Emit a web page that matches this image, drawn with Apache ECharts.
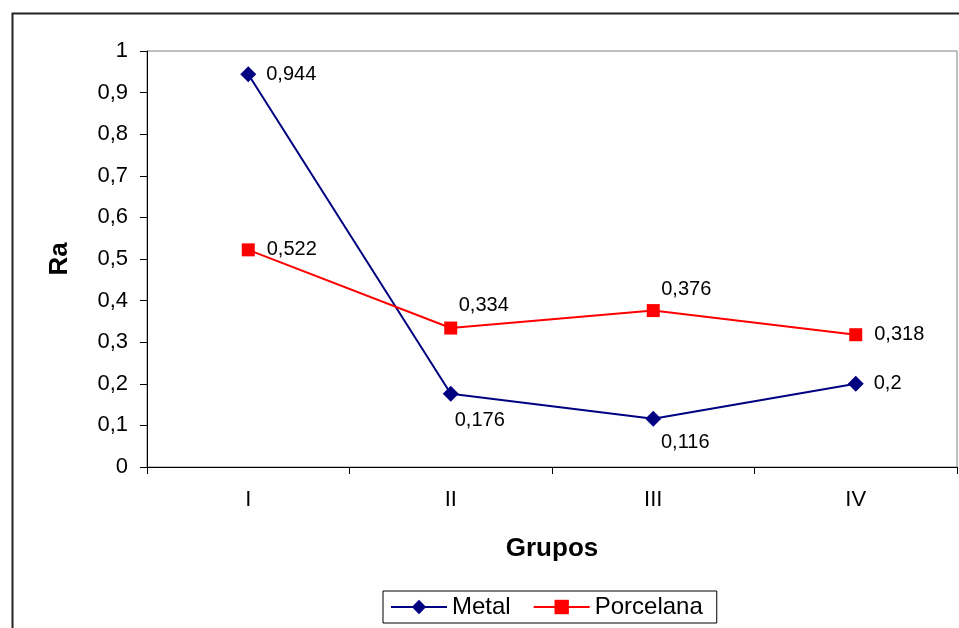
<!DOCTYPE html>
<html><head><meta charset="utf-8">
<script src="https://cdn.jsdelivr.net/npm/echarts@6/dist/echarts.min.js"></script>
<style>html,body{margin:0;padding:0;background:#fff}#c{width:959px;height:628px}</style>
</head><body><div id="c"></div>
<script>
const categories = ['I', 'II', 'III', 'IV'];
const metal = [0.944, 0.176, 0.116, 0.2];
const porcelana = [0.522, 0.334, 0.376, 0.318];
const yTicks = [0, 0.1, 0.2, 0.3, 0.4, 0.5, 0.6, 0.7, 0.8, 0.9, 1];

const FONT = '"Liberation Sans", Arial, sans-serif';
const fmt = v => String(v).replace('.', ',');

// label placement per point (style only)
const metalLabels = [
  {position: 'right', distance: 10},
  {position: 'inside', offset: [29, 27]},
  {position: 'inside', offset: [32, 24]},
  {position: 'right', distance: 10}
];
const porcLabels = [
  {position: 'right', distance: 12},
  {position: 'inside', offset: [33, -23]},
  {position: 'inside', offset: [33, -21]},
  {position: 'right', distance: 12}
];
function build(vals, lbls) {
  return vals.map((v, i) => ({value: v, label: lbls[i]}));
}

const chart = echarts.init(document.getElementById('c'));
chart.setOption({
  animation: false,
  backgroundColor: '#fff',
  textStyle: {fontFamily: FONT},
  graphic: [{
    type: 'rect', left: 10, top: 11, shape: {width: 1000, height: 700},
    style: {fill: 'none', stroke: '#222', lineWidth: 2}, silent: true, z: -1
  }],
  grid: {left: 147, top: 51, right: 2, bottom: 161, show: true, borderColor: '#808080', borderWidth: 1},
  legend: {
    left: 383, top: 591,
    data: ['Metal', 'Porcelana'],
    itemWidth: 56, itemHeight: 18, itemGap: 22,
    padding: [4, 14, 4, 7],
    borderColor: '#000', borderWidth: 1,
    textStyle: {fontSize: 24, fontFamily: FONT, color: '#000'}
  },
  xAxis: {
    type: 'category', data: categories, boundaryGap: true,
    name: 'Grupos', nameLocation: 'middle', nameGap: 69,
    nameTextStyle: {fontSize: 26, fontWeight: 'bold', color: '#000', fontFamily: FONT},
    axisLine: {lineStyle: {color: '#000', width: 1}},
    axisTick: {show: true, length: 7, alignWithLabel: false, lineStyle: {color: '#000'}},
    axisLabel: {fontSize: 22, color: '#000', margin: 22, fontFamily: FONT}
  },
  yAxis: {
    type: 'value', min: 0, max: 1, interval: 0.1,
    name: 'Ra', nameLocation: 'middle', nameGap: 74,
    nameTextStyle: {fontSize: 26, fontWeight: 'bold', color: '#000', fontFamily: FONT},
    axisLine: {show: true, lineStyle: {color: '#000', width: 1}},
    axisTick: {show: true, length: 7, lineStyle: {color: '#000'}},
    splitLine: {show: false},
    axisLabel: {fontSize: 22, color: '#000', margin: 19, fontFamily: FONT,
      formatter: v => fmt(Math.round(v * 10) / 10)}
  },
  series: [
    {
      name: 'Metal', type: 'line', data: build(metal, metalLabels),
      symbol: 'diamond', symbolSize: 16,
      itemStyle: {color: '#000080'}, lineStyle: {color: '#000080', width: 2},
      label: {show: true, fontSize: 20, color: '#000', fontFamily: FONT, formatter: p => fmt(p.value)}
    },
    {
      name: 'Porcelana', type: 'line', data: build(porcelana, porcLabels),
      symbol: 'rect', symbolSize: 13,
      itemStyle: {color: '#FF0000'}, lineStyle: {color: '#FF0000', width: 2},
      label: {show: true, fontSize: 20, color: '#000', fontFamily: FONT, formatter: p => fmt(p.value)}
    }
  ]
});
</script>
</body></html>
